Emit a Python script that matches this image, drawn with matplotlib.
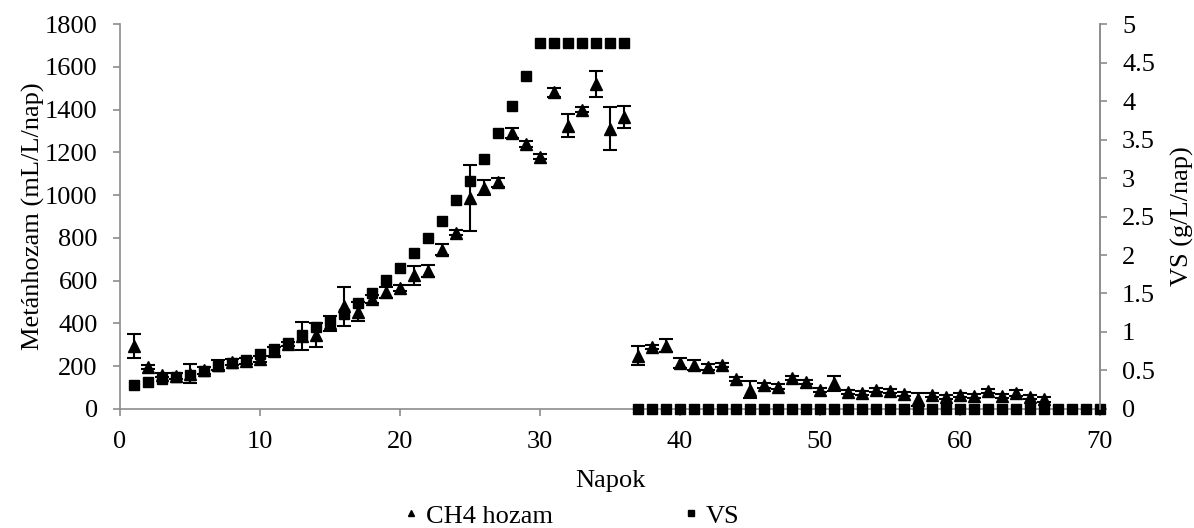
import matplotlib
matplotlib.use("Agg")
import matplotlib.pyplot as plt
from matplotlib.lines import Line2D
import numpy as np

plt.rcParams['font.family'] = ['Liberation Serif', 'DejaVu Serif']
plt.rcParams['font.size'] = 19

# CH4 hozam (mL/L/nap) - napok 1..66
ch4_nap = list(range(1, 67))
ch4 = [295, 195, 160, 155, 165, 180, 205, 220, 225, 235,
       270, 305, 340, 345, 400, 480, 455, 515, 545, 565,
       625, 645, 745, 825, 985, 1035, 1060, 1290, 1240, 1180,
       1480, 1325, 1400, 1520, 1310, 1365,
       250, 290, 295, 215, 205, 195, 205, 140, 90, 110,
       105, 145, 125, 90, 120, 80, 75, 90, 85, 70,
       45, 65, 55, 65, 60, 85, 60, 75, 55, 45]
ch4_err = [55, 10, 10, 15, 45, 15, 25, 15, 15, 15,
           20, 10, 65, 55, 35, 90, 45, 20, 25, 15,
           45, 30, 25, 10, 155, 35, 20, 25, 15, 10,
           20, 55, 10, 60, 100, 50,
           45, 10, 30, 25, 25, 15, 10, 10, 40, 10,
           10, 10, 10, 10, 35, 10, 10, 10, 10, 10,
           30, 10, 10, 10, 10, 10, 10, 15, 10, 10]

# VS (g/L/nap) - napok 1..70
vs_nap = list(range(1, 71))
vs = [0.31, 0.35, 0.39, 0.42, 0.44, 0.49, 0.56, 0.60, 0.64, 0.71,
      0.78, 0.86, 0.96, 1.06, 1.14, 1.24, 1.38, 1.51, 1.67, 1.83,
      2.03, 2.22, 2.44, 2.71, 2.96, 3.25, 3.58, 3.93, 4.33, 4.76,
      4.76, 4.76, 4.76, 4.76, 4.76, 4.76] + [0] * 34

grey = "#8c8c8c"

fig = plt.figure(figsize=(11.94, 5.28), dpi=100)
ax = fig.add_axes([0.1005, 0.2254, 0.8207, 0.7291])
ax2 = ax.twinx()

ax.errorbar(ch4_nap, ch4, yerr=ch4_err, fmt="^", color="black", markersize=8,
            ecolor="black", elinewidth=1.5, capsize=5, capthick=1.5, zorder=3,
            clip_on=False)
ax2.plot(vs_nap, vs, "s", color="black", markersize=7.5, clip_on=False)

ax.set_xlim(0, 70)
ax.set_ylim(0, 1800)
ax.set_xticks(range(0, 71, 10))
ax.set_yticks(range(0, 1801, 200))
ax2.set_ylim(0, 5)
ax2.set_yticks(np.arange(0, 5.01, 0.5))
ax2.set_yticklabels(["0", "0.5", "1", "1.5", "2", "2.5", "3", "3.5", "4", "4.5", "5"])

for a in (ax, ax2):
    a.spines["top"].set_visible(False)
    for s in ("left", "right", "bottom"):
        a.spines[s].set_color(grey)
        a.spines[s].set_linewidth(1.2)
    a.tick_params(colors=grey, labelcolor="black", length=5, width=1.2, labelsize=19)
ax2.spines["left"].set_visible(False)
ax2.spines["bottom"].set_visible(False)
ax.tick_params(axis="y", pad=11)
ax.tick_params(axis="x", pad=11)
ax2.tick_params(axis="y", pad=11)

ax.set_xlabel("Napok", fontsize=19, labelpad=12)
ax.set_ylabel("Metánhozam (mL/L/nap)", fontsize=19, labelpad=0)
ax2.set_ylabel("VS (g/L/nap)", fontsize=19, labelpad=11)

handles = [Line2D([], [], marker="^", color="black", linestyle="none", markersize=5),
           Line2D([], [], marker="s", color="black", linestyle="none", markersize=5)]
fig.legend(handles, ["CH4 hozam", "VS"], loc="center", bbox_to_anchor=(0.479, 0.023), ncol=2,
           frameon=False, fontsize=19, handlelength=0.5,
           handletextpad=0.3, columnspacing=5.0)

fig.savefig("out.png", dpi=100)
